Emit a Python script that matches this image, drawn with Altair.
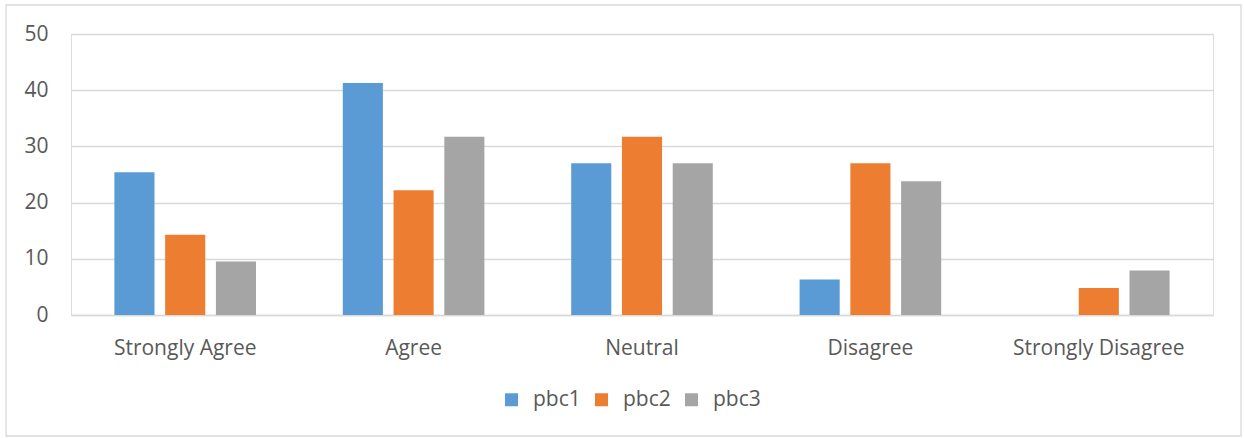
import altair as alt
import pandas as pd

categories = ["Strongly Agree", "Agree", "Neutral", "Disagree", "Strongly Disagree"]
series = ["pbc1", "pbc2", "pbc3"]
pbc1 = [25.4, 41.3, 27.0, 6.3, 0.0]
pbc2 = [14.3, 22.2, 31.7, 27.0, 4.8]
pbc3 = [9.5, 31.7, 27.0, 23.8, 7.9]
colors = ["#5B9BD5", "#ED7D31", "#A5A5A5"]

rows = []
for s, vals in zip(series, [pbc1, pbc2, pbc3]):
    for c, v in zip(categories, vals):
        rows.append({"category": c, "series": s, "value": v})
df = pd.DataFrame(rows)

FONT = "Open Sans"
FS = 21
W, H = 1142, 281

bars = alt.Chart(df).mark_bar().encode(
    x=alt.X("category:N", sort=categories, title=None,
            scale=alt.Scale(paddingInner=0.38, paddingOuter=0.19),
            axis=alt.Axis(labelAngle=0, ticks=False, domainColor="#d9d9d9", domainWidth=1.3,
                          labelPadding=22, labelFontSize=FS, labelColor="#595959", labelFont=FONT)),
    xOffset=alt.XOffset("series:N", sort=series, scale=alt.Scale(paddingInner=0.21, paddingOuter=0)),
    y=alt.Y("value:Q", title=None,
            scale=alt.Scale(domain=[0, 50], nice=False),
            axis=alt.Axis(values=[0, 10, 20, 30, 40, 50], domain=False, ticks=False,
                          gridColor="#d9d9d9", gridWidth=1.3, labelPadding=23,
                          labelFontSize=FS, labelColor="#595959", labelFont=FONT)),
    color=alt.Color("series:N", sort=series, title=None,
                    scale=alt.Scale(domain=series, range=colors),
                    legend=alt.Legend(orient="none", legendX=430, legendY=355, direction="horizontal",
                                      symbolType="square", symbolSize=169, symbolStrokeWidth=0,
                                      labelFontSize=FS, labelColor="#595959", labelFont=FONT,
                                      labelOffset=11, columnPadding=10)),
)

border = alt.Chart(pd.DataFrame({"b": [0]})).mark_rect(
    fill=None, stroke="#d9d9d9", strokeWidth=1.3
).encode(x=alt.value(-65), x2=alt.value(1170), y=alt.value(-29), y2=alt.value(402))

chart = alt.layer(border, bars).properties(
    width=W, height=H,
    padding={"left": 71, "top": 34, "right": 31, "bottom": 123},
    autosize=alt.AutoSizeParams(type="none"),
).configure_view(stroke=None).configure(background="white")

chart.save("out.html", embed_options={"renderer": "svg", "actions": False})
